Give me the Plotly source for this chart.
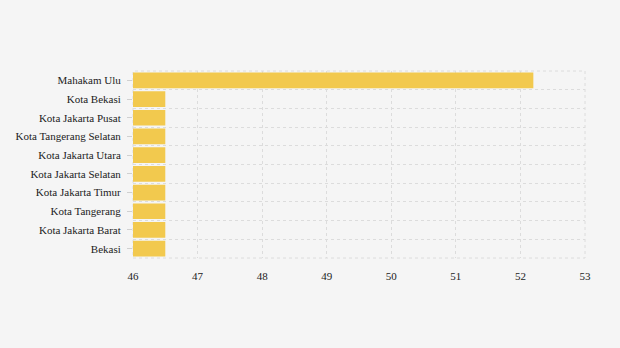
import plotly.graph_objects as go

categories = ["Mahakam Ulu", "Kota Bekasi", "Kota Jakarta Pusat", "Kota Tangerang Selatan",
              "Kota Jakarta Utara", "Kota Jakarta Selatan", "Kota Jakarta Timur",
              "Kota Tangerang", "Kota Jakarta Barat", "Bekasi"]
values = [52.2, 46.5, 46.5, 46.5, 46.5, 46.5, 46.5, 46.5, 46.5, 46.5]
x_ticks = [46, 47, 48, 49, 50, 51, 52, 53]

GRID = "#DCDCDC"

fig = go.Figure()
fig.add_trace(go.Bar(
    x=values, y=categories, orientation="h",
    marker=dict(color="#F2C94E", line=dict(width=0)),
    yaxis="y",
))
# invisible helper trace so the label axis knows the categories
fig.add_trace(go.Scatter(
    x=values, y=categories, mode="none", yaxis="y2", hoverinfo="skip",
))

fig.update_layout(
    width=620, height=348,
    margin=dict(l=133, r=35, t=71, b=90),
    paper_bgcolor="#F5F5F5", plot_bgcolor="#F5F5F5",
    font=dict(family="Liberation Serif", size=11, color="#222222"),
    bargap=0.16,
    showlegend=False,
    xaxis=dict(
        range=[46, 53], tickvals=x_ticks, showgrid=True, gridcolor=GRID,
        griddash="dot", gridwidth=1, zeroline=False, showline=False,
        ticks="outside", ticklen=8, tickcolor="rgba(0,0,0,0)",
    ),
    yaxis=dict(
        categoryorder="array", categoryarray=categories, autorange="reversed",
        tickson="boundaries", showgrid=True, gridcolor=GRID, griddash="dot",
        gridwidth=1, showline=False, showticklabels=False, ticks="",
    ),
    yaxis2=dict(
        overlaying="y", matches="y", side="left",
        categoryorder="array", categoryarray=categories,
        showgrid=False, showline=False, ticks="outside", ticklen=5,
        tickcolor="#D0D0D0", tickwidth=1, ticklabelstandoff=4,
    ),
    shapes=[dict(
        type="rect", xref="paper", yref="paper", x0=0, x1=1, y0=0, y1=1,
        line=dict(color=GRID, width=1, dash="dot"), layer="below",
    )],
)

fig.write_html("out.html")
